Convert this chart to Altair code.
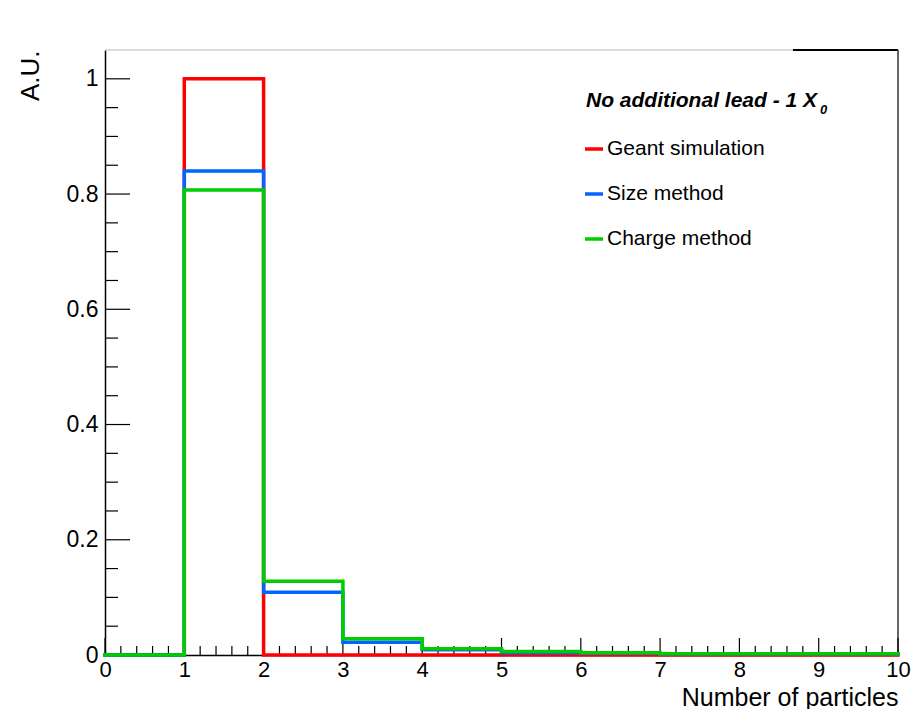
import altair as alt
import pandas as pd

# ---- data ----
bin_edges = list(range(11))
geant_vals = [0, 1.0, 0.0, 0, 0, 0, 0, 0, 0, 0]
size_vals = [0, 0.840, 0.109, 0.022, 0.009, 0.004, 0.003, 0.002, 0.002, 0.002]
charge_vals = [0, 0.807, 0.128, 0.028, 0.011, 0.006, 0.004, 0.002, 0.002, 0.002]
series_names = ["Geant simulation", "Size method", "Charge method"]
series_colors = ["#ff0000", "#0066ff", "#00cc00"]
y_major = [0, 0.2, 0.4, 0.6, 0.8, 1.0]
y_minor = [round(i * 0.05, 2) for i in range(21) if i % 4 != 0]
x_major = list(range(11))
x_minor = [round(i * 0.2, 1) for i in range(51) if i % 5 != 0]
legend_title = "No additional lead - 1 X"
legend_sub = "0"

W, H = 793, 605
FONT = "Liberation Sans"

xs = alt.Scale(domain=[0, 10], nice=False, zero=False)
ys = alt.Scale(domain=[0, 1.05], nice=False, zero=False)

x_axis = alt.Axis(values=x_major, format="~g", ticks=False, grid=False, domain=True,
                  domainColor="black", domainWidth=1.5,
                  labelFont=FONT, labelFontSize=22, labelColor="black",
                  labelPadding=4, labelFlush=False, labelOverlap=False,
                  title="Number of particles", titleFont=FONT, titleFontSize=25,
                  titleFontWeight="normal", titleColor="black",
                  titleX=W, titleY=50, titleAlign="right", titleBaseline="alphabetic")
y_axis = alt.Axis(values=y_major, format="~g", ticks=False, grid=False, domain=True,
                  domainColor="black", domainWidth=1.5,
                  labelFont=FONT, labelFontSize=23, labelColor="black",
                  labelPadding=7, labelFlush=False, labelOverlap=False,
                  title="A.U.", titleFont=FONT, titleFontSize=26,
                  titleFontWeight="normal", titleColor="black",
                  titleAngle=270, titleX=-67, titleY=0,
                  titleAlign="right", titleBaseline="alphabetic")


def hist_df(vals):
    return pd.DataFrame({"x": bin_edges,
                         "v": [vals[min(i, len(vals) - 1)] for i in bin_edges]})


dummy = pd.DataFrame({"a": [0]})

# ticks (inside)
ymaj = alt.Chart(pd.DataFrame({"t": y_major})).mark_rule(color="black", strokeWidth=1.2).encode(
    y=alt.Y("t:Q", scale=ys, axis=y_axis), x=alt.value(0), x2=alt.value(25))
ymin = alt.Chart(pd.DataFrame({"t": y_minor})).mark_rule(color="black", strokeWidth=1.2).encode(
    y=alt.Y("t:Q", scale=ys), x=alt.value(0), x2=alt.value(13))
xmaj = alt.Chart(pd.DataFrame({"t": x_major})).mark_rule(color="black", strokeWidth=1.2).encode(
    x=alt.X("t:Q", scale=xs, axis=x_axis), y=alt.value(H), y2=alt.value(H - 17))
xmin = alt.Chart(pd.DataFrame({"t": x_minor})).mark_rule(color="black", strokeWidth=1.2).encode(
    x=alt.X("t:Q", scale=xs), y=alt.value(H), y2=alt.value(H - 9))

# frame
top_gray = alt.Chart(dummy).mark_rule(color="#bbbbbb", strokeWidth=1).encode(
    x=alt.value(0), x2=alt.value(W), y=alt.value(0))
top_black = alt.Chart(dummy).mark_rule(color="black", strokeWidth=2).encode(
    x=alt.value(688), x2=alt.value(W), y=alt.value(0))
right_line = alt.Chart(dummy).mark_rule(color="#333333", strokeWidth=1.5).encode(
    x=alt.value(W), y=alt.value(0), y2=alt.value(H))

layers = [top_gray, top_black, right_line, ymaj, ymin, xmaj, xmin]

for vals, col in zip([geant_vals, size_vals, charge_vals], series_colors):
    layers.append(
        alt.Chart(hist_df(vals)).mark_line(interpolate="step-after", strokeWidth=3.5,
                                           color=col, strokeJoin="miter", strokeCap="square").encode(
            x=alt.X("x:Q", scale=xs), y=alt.Y("v:Q", scale=ys)))

# legend
layers.append(alt.Chart(dummy).mark_text(align="right", baseline="alphabetic", font=FONT,
                                         fontSize=21, fontStyle="italic", fontWeight="bold",
                                         color="black", text=legend_title).encode(
    x=alt.value(712), y=alt.value(57)))
layers.append(alt.Chart(dummy).mark_text(align="left", baseline="alphabetic", font=FONT,
                                         fontSize=13, fontStyle="italic", fontWeight="bold",
                                         color="black", text=legend_sub).encode(
    x=alt.value(715), y=alt.value(64)))
for i, (name, col) in enumerate(zip(series_names, series_colors)):
    yy = 99 + 45 * i
    layers.append(alt.Chart(dummy).mark_rule(color=col, strokeWidth=3.5).encode(
        x=alt.value(480), x2=alt.value(498), y=alt.value(yy)))
    layers.append(alt.Chart(dummy).mark_text(align="left", baseline="middle", font=FONT,
                                             fontSize=21, color="black", text=name).encode(
        x=alt.value(502), y=alt.value(yy)))

chart = alt.layer(*layers).properties(
    width=W, height=H,
    autosize=alt.AutoSizeParams(type="none"),
    padding={"left": 97, "top": 42, "right": 13, "bottom": 54},
    background="white",
).configure_view(strokeWidth=0)

chart.save("out.html", embed_options={"renderer": "svg", "actions": False})
